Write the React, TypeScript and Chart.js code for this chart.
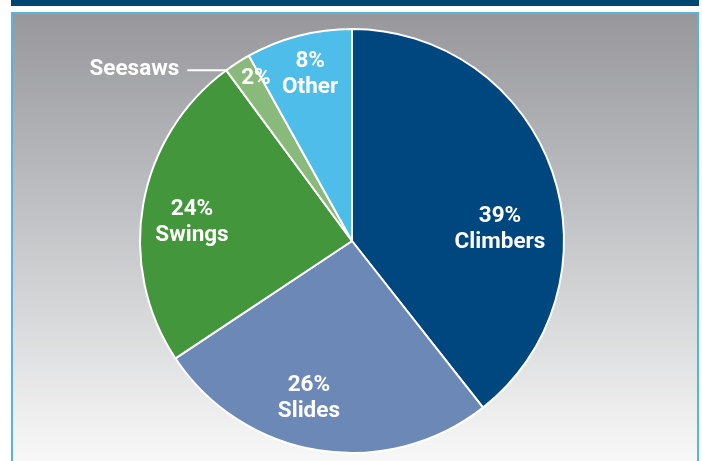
import React, { useEffect, useRef } from "react";
import { Chart, registerables } from "chart.js";

Chart.register(...registerables);

const categories = ["Climbers", "Slides", "Swings", "Seesaws", "Other"];
const shares = [39, 26, 24, 2, 8];
const sliceColors = ["#00467f", "#6c88b6", "#43963b", "#8aba7b", "#4fbde9"];

// label anchor: angle in degrees clockwise from 12 o'clock, radius as fraction of outer radius
const labelAnchors = [
  { angle: 85.7, r: 0.7 },
  { angle: 195.3, r: 0.77 },
  { angle: 276.7, r: 0.76 },
  { angle: 329.4, r: 0.89 },
  { angle: 345.9, r: 0.81 },
];
const outsideLabelIndex = 3;

const FONT = "bold 22.5px Roboto";

const labelPlugin = {
  id: "sliceLabels",
  afterDatasetsDraw(chart: any) {
    const meta = chart.getDatasetMeta(0);
    const ctx = chart.ctx as CanvasRenderingContext2D;
    ctx.save();
    ctx.fillStyle = "#ffffff";
    ctx.font = FONT;
    ctx.textAlign = "center";
    ctx.textBaseline = "middle";
    meta.data.forEach((arc: any, i: number) => {
      const p = arc.getProps(["x", "y", "outerRadius", "startAngle"], true);
      const a = (labelAnchors[i].angle * Math.PI) / 180;
      const rr = p.outerRadius * labelAnchors[i].r;
      const lx = p.x + rr * Math.sin(a);
      const ly = p.y - rr * Math.cos(a);
      const pct = shares[i] + "%";
      ctx.textAlign = "center";
      if (i === outsideLabelIndex) {
        ctx.fillText(pct, lx, ly);
        const ex = p.x + p.outerRadius * Math.cos(p.startAngle);
        const ey = p.y + p.outerRadius * Math.sin(p.startAngle);
        ctx.strokeStyle = "#ffffff";
        ctx.lineWidth = 2;
        ctx.beginPath();
        ctx.moveTo(ex, ey);
        ctx.lineTo(ex - 39, ey);
        ctx.stroke();
        ctx.textAlign = "right";
        ctx.fillText(categories[i], ex - 47, ey - 1);
      } else {
        ctx.fillText(pct, lx, ly - 13);
        ctx.fillText(categories[i], lx, ly + 13);
      }
    });
    ctx.restore();
  },
};

export default function App() {
  const ref = useRef<HTMLCanvasElement | null>(null);
  useEffect(() => {
    if (!ref.current) return;
    const chart = new Chart(ref.current, {
      type: "pie",
      data: {
        labels: categories,
        datasets: [
          {
            data: shares,
            backgroundColor: sliceColors,
            borderColor: "#ffffff",
            borderWidth: 2,
          },
        ],
      },
      options: {
        animation: false,
        responsive: false,
        events: [],
        layout: { padding: { left: 139, top: 28, right: 137, bottom: 7 } },
        plugins: { legend: { display: false }, tooltip: { enabled: false } },
      },
      plugins: [labelPlugin],
    });
    return () => chart.destroy();
  }, []);

  return (
    <div
      style={{
        position: "fixed",
        left: 0,
        top: 0,
        width: 702,
        height: 461,
        background: "#ffffff",
        overflow: "hidden",
      }}
    >
      <div
        style={{
          position: "absolute",
          left: 11,
          top: 0,
          width: 688,
          height: 6,
          background: "#004673",
        }}
      />
      <div
        style={{
          position: "absolute",
          left: 11,
          top: 12,
          width: 688,
          height: 449,
          boxSizing: "border-box",
          borderTop: "2px solid #56b4de",
          borderLeft: "2px solid #56b4de",
          borderRight: "2px solid #56b4de",
          background: "linear-gradient(to bottom, #98989c 0%, #c1c2c5 45%, #f8f8f8 100%)",
        }}
      />
      <canvas
        ref={ref}
        width={702}
        height={461}
        style={{ position: "absolute", left: 0, top: 0, width: 702, height: 461 }}
      />
    </div>
  );
}
